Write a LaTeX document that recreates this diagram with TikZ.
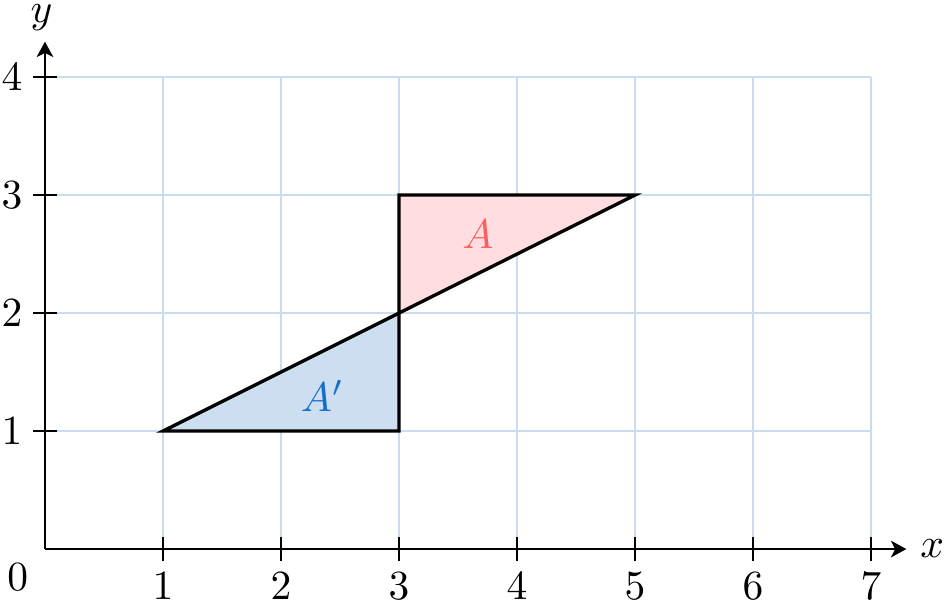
\documentclass[tikz,border=0pt]{standalone}
\usetikzlibrary{arrows.meta}
\definecolor{gridc}{RGB}{204,220,240}
\definecolor{pinkf}{RGB}{255,222,225}
\definecolor{bluef}{RGB}{204,222,240}
\definecolor{redt}{RGB}{250,95,95}
\definecolor{bluet}{RGB}{20,110,200}
\tikzset{
  gridline/.style={gridc, line width=0.5pt},
  axis/.style={line width=0.6pt, -{Stealth[length=1.3mm,width=1.4mm,inset=0.35mm]}},
  tick/.style={line width=0.6pt},
  tri/.style={line width=0.8pt, line join=miter},
}
\begin{document}
\begin{tikzpicture}[x=1cm,y=1cm]
\useasboundingbox (-0.381,-0.441) rectangle (7.619,4.653);
\draw[gridline] (0,0) grid (7,4);
\fill[pinkf] (3,2) -- (3,3) -- (5,3) -- cycle;
\fill[bluef] (1,1) -- (3,1) -- (3,2) -- cycle;
\draw[tri] (3,2) -- (3,3) -- (5,3) -- cycle;
\draw[tri] (1,1) -- (3,1) -- (3,2) -- cycle;
\node[redt] (la) at (3.67,2.67) {$A$};
\node[bluet] (lb) at (2.35,1.3) {$A'$};
\coordinate (o) at (0,0);
\coordinate (xe) at (7.3,0);
\coordinate (ye) at (0,4.3);
\draw[axis] (o) -- (xe);
\draw[axis] (o) -- (ye);
\node (xl) at (7.52,0) {$x$};
\node (yl) at (-0.03,4.5) {$y$};
\node (zero) at (-0.23,-0.24) {$0$};
\foreach \i in {1,...,7} {
  \draw[tick] (\i,-0.1) -- (\i,0.1);
  \node (xt\i) at (\i,-0.31) {$\i$};
}
\foreach \j in {1,...,4} {
  \draw[tick] (-0.1,\j) -- (0.1,\j);
  \node (yt\j) at (-0.28,\j) {$\j$};
}
\end{tikzpicture}
\end{document}
